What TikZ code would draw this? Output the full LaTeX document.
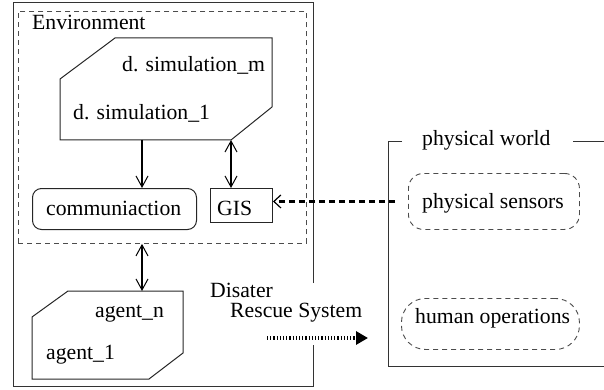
\documentclass[tikz,border=0pt]{standalone}
\usepackage{fontspec}
\setmainfont{Liberation Serif}
\usetikzlibrary{arrows.meta}
\begin{document}
\begin{tikzpicture}[x=1pt,y=-1pt,
  txt/.style={font=\fontsize{21.7}{26}\selectfont, inner sep=0pt, anchor=base west},
  frame/.style={line width=1pt, draw=black!80},
  thinbox/.style={line width=1pt, draw=black!85},
  dbox/.style={line width=0.9pt, draw=black!70, dash pattern=on 5pt off 4pt},
  emptybox/.style={inner sep=0pt, anchor=north west},
  onearrow/.style={line width=2pt, -{Straight Barb[length=11pt,width=12pt,line width=1pt]}},
  twoarrow/.style={line width=2pt, {Straight Barb[length=11pt,width=12pt,line width=1pt]}-{Straight Barb[length=11pt,width=12pt,line width=1pt]}},
  dasharrow/.style={line width=2.4pt, dash pattern=on 6pt off 4pt, -{Straight Barb[length=7pt,width=13pt,line width=1.2pt]}},
  dotarrow/.style={line width=3.5pt, dash pattern=on 1.2pt off 2pt, -{Triangle[length=12pt,width=13pt]}}]
\useasboundingbox (0,0) rectangle (604,390);

% outer solid frame (gap on right side for the label)
\draw[frame] (313,283) -- (313,3) -- (13,3) -- (13,386) -- (313,386) -- (313,345);

% environment dashed box
\node[dbox, emptybox, minimum width=288pt, minimum height=232pt] (env) at (18,11) {};
\node[txt] (envlabel) at (32,30) {Environment};

% simulation polygon
\coordinate (simA) at (115,38);
\coordinate (simB) at (272,38);
\coordinate (simC) at (272,107);
\coordinate (simD) at (231,140);
\coordinate (simE) at (60,140);
\coordinate (simF) at (60,79);
\draw[thinbox] (simA) -- (simB) -- (simC) -- (simD) -- (simE) -- (simF) -- cycle;
\node[txt] (simm) at (122,72) {d. simulation\_m};
\node[txt] (sim1) at (73,120) {d. simulation\_1};
\coordinate (simout) at (142,140);

% communication and GIS
\node[thinbox, draw, emptybox, rounded corners=9pt, minimum width=164pt, minimum height=41pt] (comm) at (32,188) {};
\node[txt] (commlabel) at (46,215) {communiaction};
\node[thinbox, draw, emptybox, minimum width=62pt, minimum height=34pt] (gis) at (210,188) {};
\node[txt] (gislabel) at (217,215) {GIS};

\draw[onearrow] (simout) -- (simout |- comm.north);
\draw[twoarrow] (simD) -- (simD |- gis.north);

% agent polygon
\coordinate (agA) at (68,291);
\coordinate (agB) at (183,291);
\coordinate (agC) at (183,353);
\coordinate (agD) at (149,379);
\coordinate (agE) at (32,379);
\coordinate (agF) at (32,317);
\draw[thinbox] (agA) -- (agB) -- (agC) -- (agD) -- (agE) -- (agF) -- cycle;
\node[txt] (agn) at (95,317) {agent\_n};
\node[txt] (ag1) at (46,359) {agent\_1};
\coordinate (agtop) at (142,291);
\draw[twoarrow] (agtop |- env.south) -- (agtop);

% system label
\node[txt] (dis) at (210,297) {Disater};
\node[txt] (rescue) at (230,317) {Rescue System};

% physical world
\node[txt] (pw) at (422,146) {physical world};
\draw[frame] (402,142) -- (388,142) -- (388,366) -- (604,366);
\draw[frame] (573,142) -- (604,142);
\node[dbox, draw, emptybox, rounded corners=15pt, minimum width=171pt, minimum height=56pt] (ps) at (408,173) {};
\node[txt] (pslabel) at (422,208) {physical sensors};
\node[dbox, draw, emptybox, rounded corners=24pt, minimum width=178pt, minimum height=51pt] (ho) at (401,298) {};
\node[txt] (holabel) at (415,323) {human operations};

% connectors
\draw[dasharrow] ([xshift=-13pt]ps.west) -- (ps.west -| gis.east);
\coordinate (dotS) at (267,338);
\coordinate (dotE) at (368,338);
\draw[dotarrow] (dotS) -- (dotE);
\end{tikzpicture}
\end{document}
